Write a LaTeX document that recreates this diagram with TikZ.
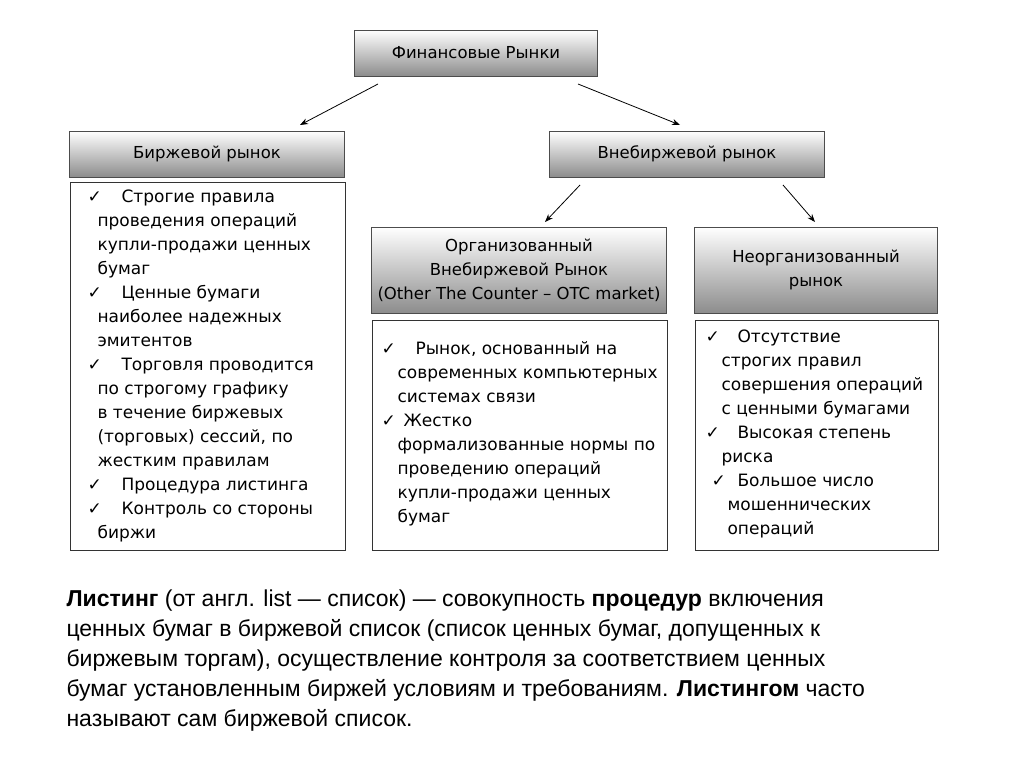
\documentclass[tikz,border=0pt]{standalone}
\usepackage{fontspec}
\setmainfont{DejaVu Sans}
\newfontfamily\notefont{Liberation Sans}
\usetikzlibrary{arrows.meta}

\tikzset{
  head/.style={draw=black!70, top color=white, bottom color=black!45,
    align=center, inner sep=0pt, font=\fontsize{16.5}{24}\selectfont},
  listtext/.style={anchor=north west, align=left, font=\fontsize{17}{24}\selectfont},
  listbox/.style={draw=black!80, line width=1pt},
  arr/.style={-{Stealth[length=8pt,width=6pt]}, line width=0.8pt}
}
\newcommand{\ck}{\makebox[22pt][l]{✓}}

\begin{document}
\begin{tikzpicture}[x=1pt,y=-1pt]
\useasboundingbox (0,0) rectangle (1024,768);

% headers
\node[head, minimum width=243, minimum height=46] (fin) at (476,53) {Финансовые Рынки};
\node[head, minimum width=275, minimum height=46] (birzh) at (207,154) {Биржевой рынок};
\node[head, minimum width=275, minimum height=46] (vne) at (687,154) {Внебиржевой рынок};
\node[head, minimum width=295, minimum height=86] (org) at (519,270)
  {Организованный\\Внебиржевой Рынок\\(Other The Counter -- OTC market)};
\node[head, minimum width=243, minimum height=86] (neorg) at (816,270) {Неорганизованный\\рынок};

% arrows
\coordinate (f1) at (378,84);
\coordinate (f2) at (578,84);
\coordinate (v1) at (580,185);
\coordinate (v2) at (783,185);
\draw[arr] (f1) -- (300,125);
\draw[arr] (f2) -- (680,125);
\draw[arr] (v1) -- (545,222);
\draw[arr] (v2) -- (815,222);

% lists
\draw[listbox] (70,182) rectangle (345,550);
\draw[listbox] (372,320) rectangle (667,550);
\draw[listbox] (695,320) rectangle (938,550);

\node[listtext] (l1) at (84,186)
  {\ck\hspace{12pt}Строгие правила\\
   \hspace{10pt}проведения операций\\
   \hspace{10pt}купли-продажи ценных\\
   \hspace{10pt}бумаг\\
   \ck\hspace{12pt}Ценные бумаги\\
   \hspace{10pt}наиболее надежных\\
   \hspace{10pt}эмитентов\\
   \ck\hspace{12pt}Торговля проводится\\
   \hspace{10pt}по строгому графику\\
   \hspace{10pt}в течение биржевых\\
   \hspace{10pt}(торговых) сессий, по\\
   \hspace{10pt}жестким правилам\\
   \ck\hspace{12pt}Процедура листинга\\
   \ck\hspace{12pt}Контроль со стороны\\
   \hspace{10pt}биржи};

\node[listtext] (l2) at (378,338)
  {\ck\hspace{12pt}Рынок, основанный на\\
   \hspace{16pt}современных компьютерных\\
   \hspace{16pt}системах связи\\
   \ck\hspace{0pt}Жестко\\
   \hspace{16pt}формализованные нормы по\\
   \hspace{16pt}проведению операций\\
   \hspace{16pt}купли-продажи ценных\\
   \hspace{16pt}бумаг};

\node[listtext] (l3) at (702,326)
  {\ck\hspace{10pt}Отсутствие\\
   \hspace{16pt}строгих правил\\
   \hspace{16pt}совершения операций\\
   \hspace{16pt}с ценными бумагами\\
   \ck\hspace{10pt}Высокая степень\\
   \hspace{16pt}риска\\
   \hspace{6pt}\ck\hspace{4pt}Большое число\\
   \hspace{22pt}мошеннических\\
   \hspace{22pt}операций};

% note
\node[anchor=north west, align=left, font=\notefont\fontsize{23}{30}\selectfont] (note) at (63,586)
  {\textbf{Листинг} (от англ. list — список) — совокупность \textbf{процедур} включения\\
   ценных бумаг в биржевой список (список ценных бумаг, допущенных к\\
   биржевым торгам), осуществление контроля за соответствием ценных\\
   бумаг установленным биржей условиям и требованиям. \textbf{Листингом} часто\\
   называют сам биржевой список.};
\end{tikzpicture}
\end{document}
